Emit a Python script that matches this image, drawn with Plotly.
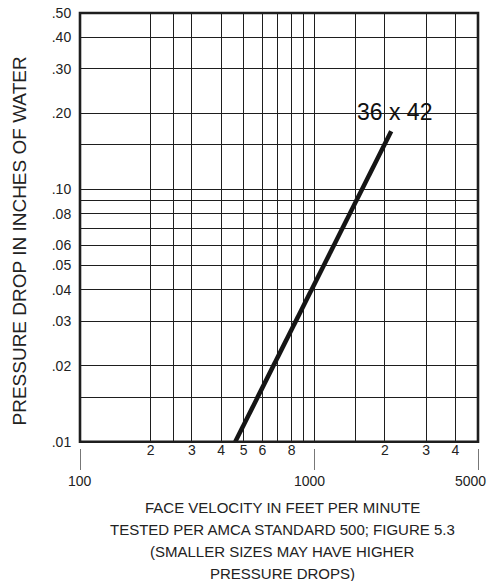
import math
import plotly.graph_objects as go

# ---- data ----
velocity_fpm = [460, 2130]          # face velocity, ft/min
pressure_in_wg = [0.01, 0.17]       # pressure drop, inches of water
series_name = "36 x 42"

# ---- axis ticks / labels ----
x_grid_vals = [200, 250, 300, 400, 500, 600, 700, 800, 900, 1000, 1500, 2000, 3000, 4000]
x_grid_text = ["2", "", "3", "4", "5", "6", "", "8", "", "", "", "2", "3", "4"]
x_major_vals = [100, 1000, 5000]
x_major_text = ["100", "1000", "5000"]

y_grid_vals = [0.01, 0.015, 0.02, 0.03, 0.04, 0.05, 0.06, 0.07, 0.08, 0.09,
               0.10, 0.15, 0.20, 0.30, 0.40, 0.50]
y_grid_text = [".01", "", ".02", ".03", ".04", ".05", ".06", "", ".08", "",
               ".10", "", ".20", ".30", ".40", ".50"]

x_title_lines = [
    "FACE VELOCITY IN FEET PER MINUTE",
    "TESTED PER AMCA STANDARD 500; FIGURE 5.3",
    "(SMALLER SIZES MAY HAVE HIGHER",
    "PRESSURE DROPS)",
]
y_title = "PRESSURE DROP IN INCHES OF WATER"

FONT = "Arial, Liberation Sans, sans-serif"
TXT = "#222222"

W, H = 492, 581
ML, MR, MT, MB = 80, 14, 13, 111
paper_h = H - MT - MB
paper_w = W - ML - MR


def py(px):  # window pixel y -> paper y
    return (H - MB - px) / paper_h


def pxx(px):  # window pixel x -> paper x
    return (px - ML) / paper_w


fig = go.Figure()
fig.add_trace(go.Scatter(
    x=velocity_fpm, y=pressure_in_wg, mode="lines", name=series_name,
    line=dict(color="#151515", width=4.5), showlegend=False, hoverinfo="skip",
))
fig.add_trace(go.Scatter(x=[], y=[], xaxis="x2", yaxis="y", showlegend=False,
                         hoverinfo="skip"))

eps = 1e-6
xrange_log = [math.log10(x_major_vals[0]) - eps, math.log10(x_major_vals[-1]) + eps]
yrange_log = [math.log10(y_grid_vals[0]) - eps, math.log10(y_grid_vals[-1]) + eps]
y_bottom = py(441.7)

fig.update_layout(
    width=W, height=H,
    margin=dict(l=ML, r=MR, t=MT, b=MB, pad=0, autoexpand=False),
    paper_bgcolor="white", plot_bgcolor="white",
    font=dict(family=FONT, size=14, color=TXT),
    xaxis=dict(
        type="log", range=xrange_log, automargin=False,
        tickmode="array", tickvals=x_grid_vals, ticktext=x_grid_text,
        showgrid=True, gridcolor="#1e1e1e", gridwidth=1.2,
        showline=False, ticklabeloverflow="allow",
        ticks="", ticklabelstandoff=-2,
        tickfont=dict(size=14, color=TXT),
        zeroline=False,
    ),
    xaxis2=dict(
        type="log", range=xrange_log, overlaying="x", anchor="free",
        position=py(448), side="bottom", automargin=False,
        tickmode="array", tickvals=x_major_vals, ticktext=[""] * len(x_major_vals),
        showgrid=False, showline=False, zeroline=False,
        ticks="outside", ticklen=21, tickwidth=1, tickcolor="#777777",
    ),
    yaxis=dict(
        type="log", range=yrange_log, domain=[y_bottom, 1], automargin=False,
        tickmode="array", tickvals=y_grid_vals, ticktext=y_grid_text,
        showgrid=True, gridcolor="#1e1e1e", gridwidth=1.2,
        showline=False, ticklabeloverflow="allow",
        ticks="outside", ticklen=5, tickcolor="rgba(0,0,0,0)",
        tickfont=dict(size=14, color=TXT),
        zeroline=False,
    ),
    shapes=[dict(
        type="rect", xref="paper", yref="paper", x0=0, x1=1, y0=y_bottom, y1=1,
        line=dict(color="#1e1e1e", width=2.6), fillcolor="rgba(0,0,0,0)",
        layer="above",
    )],
)

annotations = []
# major x labels under their tick marks (slightly left of the mark, as drawn)
major_shift = [0, -5, -8]
for v, t, s in zip(x_major_vals, x_major_text, major_shift):
    annotations.append(dict(
        text=t, xref="x", yref="paper", x=math.log10(v), y=py(480.5),
        xanchor="center", yanchor="middle", xshift=s, showarrow=False,
        font=dict(size=14, color=TXT, family=FONT),
    ))
# series label
annotations.append(dict(
    text=series_name, xref="paper", yref="paper",
    x=pxx(355), y=py(112), xanchor="left", yanchor="middle",
    showarrow=False, font=dict(size=23, color="#111111", family=FONT),
))
# x-axis title lines
for i, line in enumerate(x_title_lines):
    annotations.append(dict(
        text=line, xref="paper", yref="paper",
        x=pxx(282), y=py(507 + 22 * i), xanchor="center", yanchor="middle",
        showarrow=False, font=dict(size=15, color=TXT, family=FONT),
    ))
# y-axis title
annotations.append(dict(
    text=y_title, xref="paper", yref="paper",
    x=pxx(18.5), y=py(241), xanchor="center", yanchor="middle",
    textangle=-90, showarrow=False, font=dict(size=19, color=TXT, family=FONT),
))
fig.update_layout(annotations=annotations)

# remove the default 8px page margin so the figure fills the window exactly
fig.write_html("out.html", config={"displayModeBar": False},
               post_script="document.body.style.margin='0';")
